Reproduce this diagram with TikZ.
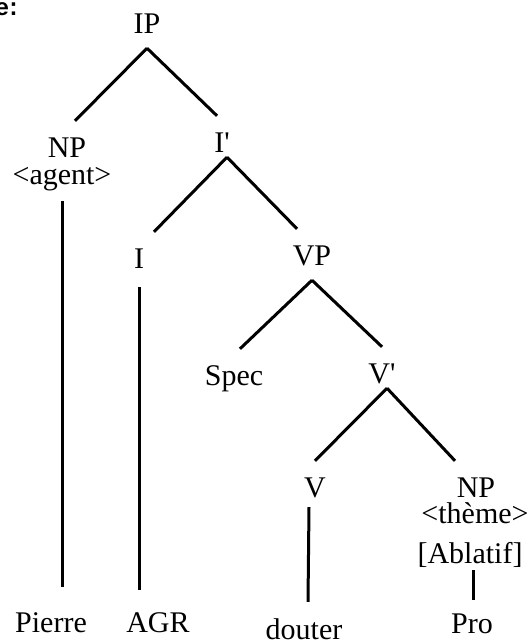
\documentclass[tikz,border=0pt]{standalone}
\usepackage{fontspec}
\setmainfont{Liberation Serif}[Ligatures=TeXOff]
\setmonofont{Liberation Mono}

\begin{document}
\begin{tikzpicture}[x=1pt, y=-1pt,
        cat/.style={font=\fontsize{30}{34}\selectfont, text height=21pt, text depth=0pt, inner xsep=0pt, inner ysep=15pt, anchor=base},
        branch/.style={line width=3pt}
    ]
        \useasboundingbox (0,0) rectangle (529,643);

        % Fragment of the caption (cut at the left edge)
        \node[anchor=base east, inner sep=0pt, font=\fontsize{24}{28}\selectfont\ttfamily\bfseries] (fig) at (21,15) {e\kern-3pt:};

        % Categories (Absolute positioning)
        \node[cat] (ip) at (147,33) {IP};
        \node[cat] (npa) at (67,157) {NP};
        \node[cat] (agent) at (62,184) {<agent>};
        \node[cat] (ibar) at (222,152) {I'};
        \node[cat] (infl) at (139,268) {I};
        \node[cat] (vp) at (312,265) {VP};
        \node[cat] (spec) at (234,385) {Spec};
        \node[cat] (vbar) at (382,383) {V'};
        \node[cat] (verb) at (315,497) {V};
        \node[cat] (npt) at (476,497) {NP};
        \node[cat] (theme) at (475,523) {<thème>};
        \node[cat] (ablatif) at (470,563) {[Ablatif]};

        % Words
        \node[cat] (pierre) at (51,632) {Pierre};
        \node[cat] (agr) at (158,632) {AGR};
        \node[cat] (douter) at (304,639) {douter};
        \node[cat] (pro) at (472,633) {Pro};

        % Branches
        \draw[branch] (ip.south) -- ([xshift=8pt]npa.north);
        \draw[branch] (ip.south) -- ([xshift=-5pt]ibar.north);
        \draw[branch] ([xshift=5pt,yshift=10pt]ibar.south) -- ([xshift=15pt]infl.north);
        \draw[branch] ([xshift=5pt,yshift=10pt]ibar.south) -- ([xshift=-15pt]vp.north);
        \draw[branch] (vp.south) -- ([xshift=6pt]spec.north);
        \draw[branch] (vp.south) -- (vbar.north);
        \draw[branch] ([xshift=5pt,yshift=10pt]vbar.south) -- (verb.north);
        \draw[branch] ([xshift=5pt,yshift=10pt]vbar.south) -- ([xshift=-21pt]npt.north);

        % Lines down to the words
        \draw[branch] ([yshift=-2pt]agent.south) -- ([yshift=9pt]agent.south |- pierre.north);
        \draw[branch] ([yshift=-4pt]infl.south) -- ([yshift=6pt]infl.south |- agr.north);
        \draw[branch] ([xshift=-6pt,yshift=5pt]verb.south) -- ([xshift=4pt,yshift=1pt]douter.north);
        \draw[branch] ([xshift=3pt,yshift=8pt]ablatif.south) -- ([xshift=3pt,yshift=-3pt]ablatif.south |- pro.north);

    \end{tikzpicture}
\end{document}
